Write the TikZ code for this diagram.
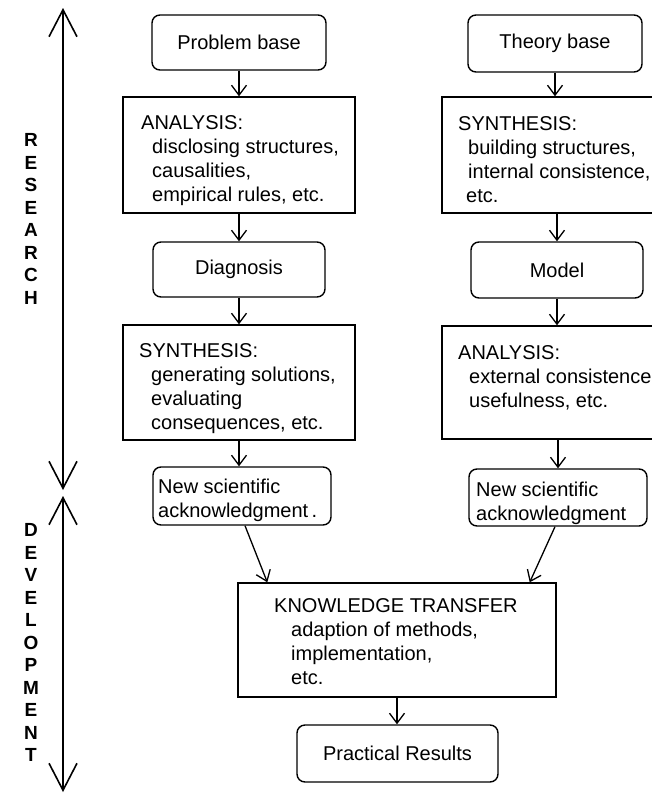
\documentclass[tikz,border=0pt]{standalone}
\usepackage{fontspec}
\setmainfont{Liberation Sans}
\usetikzlibrary{arrows.meta}

\begin{document}
\begin{tikzpicture}[x=1pt,y=-1pt,
  frame/.style={draw, line width=1.4pt, inner sep=0pt},
  rbox/.style={frame, rounded corners=8pt},
  sbox/.style={frame},
  lbl/.style={font=\fontsize{20}{24}\selectfont},
  txt/.style={lbl, inner sep=0pt, anchor=north west, align=left},
  side/.style={font=\fontsize{19}{22.5}\selectfont\bfseries, align=center, inner sep=0pt},
  flow/.style={line width=1.3pt, -{Straight Barb[length=10pt,width=15pt,line width=1.3pt]}},
  axis/.style={line width=1.6pt, {Straight Barb[length=27pt,width=28pt,line width=1.6pt]}-{Straight Barb[length=27pt,width=28pt,line width=1.6pt]}}
]
\useasboundingbox (0,0) rectangle (652,795);
\clip (0,0) rectangle (652,795);

% vertical axes with phase labels
\coordinate (rTop) at (63,8);
\coordinate (rBot) at (63,490);
\coordinate (dTop) at (63,496);
\coordinate (dBot) at (63,792);
\draw[axis] (rTop) -- (rBot);
\draw[axis] (dTop) -- (dBot);
\node[side] (research) at (31,218.75) {R\\E\\S\\E\\A\\R\\C\\H};
\node[side] (development) at (31,642.5) {D\\E\\V\\E\\L\\O\\P\\M\\E\\N\\T};

% left column
\node[rbox, lbl, minimum width=174pt, minimum height=55pt] (pb) at (239,42.5) {Problem base};
\node[sbox, minimum width=232pt, minimum height=116pt] (anL) at (239,155) {};
\node[rbox, lbl, minimum width=172pt, minimum height=55pt] (dg) at (239,269.5) {Diagnosis};
\node[sbox, minimum width=232pt, minimum height=115pt] (syL) at (239,382.5) {};
\node[rbox, minimum width=178pt, minimum height=58pt] (nsL) at (242,496) {};

% right column
\node[rbox, lbl, minimum width=174pt, minimum height=57pt] (tb) at (555,43.5) {Theory base};
\node[sbox, minimum width=238pt, minimum height=116pt] (syR) at (561,155) {};
\node[rbox, lbl, minimum width=172pt, minimum height=56pt] (md) at (557,270) {Model};
\node[sbox, minimum width=238pt, minimum height=113pt] (anR) at (561,382.5) {};
\node[rbox, minimum width=178pt, minimum height=57pt] (nsR) at (558,497.5) {};

% joint part
\node[sbox, minimum width=318pt, minimum height=114pt] (kt) at (397,640) {};
\node[rbox, lbl, minimum width=201pt, minimum height=57pt] (pr) at (397.5,753.5) {Practical Results};

% box texts
\node[txt] (anLt) at (141,115) {ANALYSIS:\\\hspace*{11pt}disclosing structures,\\\hspace*{11pt}causalities,\\\hspace*{11pt}empirical rules, etc.};
\node[txt] (syLt) at (139,343) {SYNTHESIS:\\\hspace*{12pt}generating solutions,\\\hspace*{12pt}evaluating\\\hspace*{12pt}consequences, etc.};
\node[txt] (nsLt) at (158,479) {New scientific\\acknowledgment\,.};
\node[txt] (syRt) at (458,116) {SYNTHESIS:\\\hspace*{10pt}building structures,\\\hspace*{10pt}internal consistence,\\\hspace*{8pt}etc.};
\node[txt] (anRt) at (458,345) {ANALYSIS:\\\hspace*{11pt}external consistence\\\hspace*{11pt}usefulness, etc.};
\node[txt] (nsRt) at (476,482) {New scientific\\acknowledgment};
\node[txt] (ktt) at (274,598) {KNOWLEDGE TRANSFER\\\hspace*{17pt}adaption of methods,\\\hspace*{17pt}implementation,\\\hspace*{17pt}etc.};

% connectors
\draw[flow] (pb.south) -- (pb.south |- anL.north);
\draw[flow] (anL.south -| dg.north) -- (dg.north);
\draw[flow] (dg.south) -- (dg.south |- syL.north);
\draw[flow] (syL.south) -- (syL.south |- nsL.north);
\draw[flow] (tb.south) -- (tb.south |- syR.north);
\draw[flow] (syR.south -| md.north) -- (md.north);
\draw[flow] (md.south) -- (md.south |- anR.north);
\draw[flow] (anR.south -| nsR.north) -- (nsR.north);
\coordinate (ktInL) at ([xshift=30pt]kt.north west);
\coordinate (ktInR) at ([xshift=-27pt]kt.north east);
\draw[flow] ([xshift=3pt]nsL.south) -- (ktInL);
\draw[flow] ([xshift=-3pt]nsR.south) -- (ktInR);
\draw[flow] (kt.south) -- (kt.south |- pr.north);
\end{tikzpicture}
\end{document}
